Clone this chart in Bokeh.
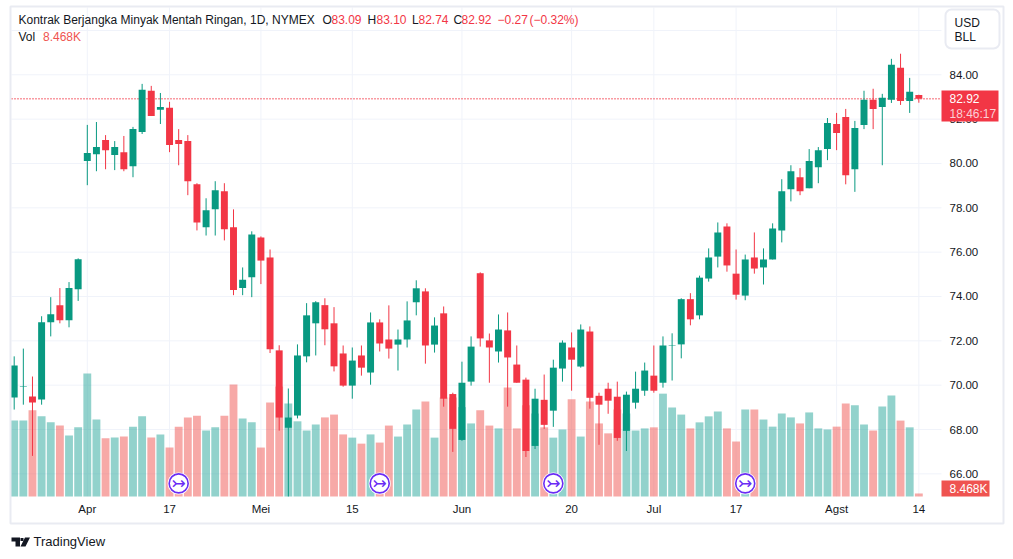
from bokeh.plotting import figure
from bokeh.embed import file_html
from bokeh.resources import INLINE
from bokeh.models import (ColumnDataSource, Range1d, LinearAxis, FixedTicker, Label, BoxAnnotation,
                          PolyAnnotation, NumeralTickFormatter)
from bokeh.core.properties import value

FONT = "Liberation Sans"

opens = [69.44,69.92,69.49,69.35,72.84,73.61,72.93,74.33,80.11,80.42,81.06,80.38,80.51,79.88,81.42,83.28,82.42,82.51,81.06,81.01,
         79.06,77.12,77.93,78.75,77.12,74.38,74.87,76.66,75.76,71.57,68.08,68.63,71.30,72.79,73.61,72.79,71.43,69.98,71.34,70.57,
         72.83,72.06,71.83,72.06,73.74,74.23,71.83,73.24,69.60,67.53,70.16,75.05,72.02,71.52,72.47,70.93,70.25,67.26,69.34,68.85,
         70.75,71.70,70.84,72.42,69.52,69.84,69.48,67.94,69.21,69.75,70.43,70.11,71.77,71.84,73.88,73.15,74.81,75.80,77.16,75.03,
         74.04,75.76,75.31,75.67,76.98,78.84,79.38,78.88,79.83,80.65,81.78,82.10,79.74,81.74,82.87,82.55,82.87,84.32,82.82,83.09]
highs = [71.30,71.65,70.39,73.11,73.97,74.38,74.65,75.72,81.74,81.87,81.28,81.01,81.24,81.65,83.59,83.50,83.18,82.78,81.55,81.28,
         79.11,78.43,79.20,79.11,77.93,75.31,76.94,76.71,76.12,71.80,69.85,71.84,73.70,73.79,73.92,73.52,71.79,71.70,71.79,73.28,
         72.97,73.60,72.51,73.78,74.73,74.37,73.06,73.55,69.66,71.06,72.20,75.09,72.33,73.19,73.28,71.79,70.34,69.84,70.48,71.15,
         72.02,72.38,72.74,72.65,69.66,70.11,70.16,69.71,70.61,71.02,71.79,72.20,72.34,73.92,74.15,74.94,76.17,77.34,77.30,76.12,
         75.89,76.89,76.17,77.30,79.29,79.92,79.79,80.65,80.74,82.05,82.28,82.46,81.92,83.28,83.37,83.14,84.72,84.95,83.86,83.10]
lows = [68.90,69.12,66.81,69.12,72.20,72.79,72.61,73.80,79.02,79.65,79.74,79.70,79.65,79.38,81.33,82.14,81.78,80.51,79.92,78.57,
        76.98,76.75,76.75,76.53,74.06,74.06,73.97,74.56,71.45,67.95,64.98,68.50,71.03,71.34,71.80,70.62,69.93,69.39,70.43,70.02,
        71.52,71.20,70.66,71.70,73.15,70.97,71.47,69.03,66.99,67.49,69.98,71.74,70.11,71.02,69.03,70.11,66.76,67.12,68.03,68.12,
        70.16,69.75,70.79,68.94,67.31,68.71,67.49,67.03,68.94,69.52,69.66,69.89,70.21,71.21,72.70,72.97,74.67,75.31,75.12,73.86,
        73.83,75.03,74.54,75.67,76.44,78.29,78.57,78.88,79.11,80.15,80.60,79.06,78.72,81.55,81.55,79.92,82.73,82.64,82.28,82.74]
closes = [70.89,69.94,69.22,72.84,73.20,72.93,74.38,75.68,80.47,80.74,80.60,80.74,79.74,81.55,83.32,82.14,82.55,80.83,80.88,79.20,
          77.34,77.89,78.79,77.03,74.29,74.76,76.80,75.62,71.62,68.54,68.54,71.34,73.15,73.74,72.52,70.85,69.98,71.11,70.79,72.83,
          71.88,71.65,72.06,72.92,74.37,71.79,72.69,69.39,68.03,70.11,71.74,72.11,71.70,72.51,71.25,70.11,67.03,69.39,68.21,70.79,
          71.92,71.15,72.51,69.43,69.12,69.30,67.62,69.57,69.84,70.66,69.75,71.79,71.79,73.88,72.97,74.85,75.76,76.89,75.40,74.08,
          75.67,75.26,75.67,77.07,78.75,79.65,78.75,80.11,80.60,81.83,81.37,79.47,81.60,82.87,82.46,82.96,84.45,82.82,83.23,82.92]
volumes_k = [214,214,243,226,209,200,172,195,347,217,164,166,169,197,226,166,175,138,197,223,
             228,186,195,228,316,220,209,138,265,310,262,212,186,203,223,231,175,166,149,175,
             152,200,169,203,245,268,166,279,279,252,206,243,200,192,307,192,257,234,195,166,
             189,274,169,268,206,178,245,234,186,192,195,290,251,231,192,209,226,240,192,155,
             245,245,217,197,234,223,206,237,192,189,197,262,257,203,186,254,285,214,195,8.468]

price_ticks = [66, 68, 70, 72, 74, 76, 78, 80, 82, 84]
grid_prices = price_ticks + [86]
time_ticks = [8, 17, 27, 37, 49, 61, 70, 79, 90, 99]
time_labels = ["Apr", "17", "Mei", "15", "Jun", "20", "Jul", "17", "Agst", "14"]
event_bars = [18, 40, 59, 80]
last_price = 82.92

UP, DOWN = "#089981", "#f23645"
VOL_UP, VOL_DOWN = "#26a69a", "#ef5350"
INK = "#131722"
GRID = "#f0f3fa"
BORDER = "#e9ebf2"

# extent of the price pane inside the picture, in axis units
PANE_LEFT, PANE_RIGHT = -0.295, 101.48
PANE_BOTTOM, PANE_TOP = 64.98, 87.04

idx = list(range(len(opens)))
up = [c >= o for o, c in zip(opens, closes)]
src = ColumnDataSource(dict(
    x=idx, o=opens, h=highs, l=lows, c=closes, v=volumes_k,
    color=[UP if u else DOWN for u in up],
    vcolor=[VOL_UP if u else VOL_DOWN for u in up],
    top=[max(o, c) for o, c in zip(opens, closes)],
    bot=[min(o, c) for o, c in zip(opens, closes)],
))

# the frame fills the picture, so that the tags and the legend outside the pane can be drawn
p = figure(width=1013, height=559, output_backend="svg", toolbar_location=None,
           x_range=Range1d(-1.499, 109.36), y_range=Range1d(62.137, 87.351),
           x_axis_location=None, y_axis_location=None,
           frame_width=1013, frame_height=559,
           min_border_left=0, min_border_right=0, min_border_top=0, min_border_bottom=0,
           outline_line_color=None, background_fill_color="white", border_fill_color="white",
           margin=(0, 0, 0, 0))
p.grid.visible = False
p.extra_y_ranges = {"vol": Range1d(-177.7, 1398.7)}

yaxis = LinearAxis(ticker=FixedTicker(ticks=price_ticks), axis_line_color=None, fixed_location=PANE_RIGHT,
                   major_tick_line_color=None, minor_tick_line_color=None,
                   major_tick_out=0, major_tick_in=0, minor_tick_out=0, minor_tick_in=0,
                   major_label_text_font=FONT, major_label_text_font_size="11.5px",
                   major_label_text_color=INK, major_label_standoff=8)
yaxis.formatter = NumeralTickFormatter(format="0.00")
p.add_layout(yaxis, "right")

xaxis = LinearAxis(ticker=FixedTicker(ticks=time_ticks), axis_line_color=None, fixed_location=PANE_BOTTOM,
                   major_tick_line_color=None, minor_tick_line_color=None,
                   major_tick_out=0, major_tick_in=0, minor_tick_out=0, minor_tick_in=0,
                   major_label_text_font=FONT, major_label_text_font_size="11.5px",
                   major_label_text_color=INK, major_label_standoff=7,
                   major_label_overrides={t: s for t, s in zip(time_ticks, time_labels)})
p.add_layout(xaxis, "below")

# grid, limited to the pane
p.segment(x0=[PANE_LEFT] * len(grid_prices), x1=[PANE_RIGHT] * len(grid_prices), y0=grid_prices, y1=grid_prices,
          line_color=GRID, line_width=1)
p.segment(x0=time_ticks, x1=time_ticks, y0=[PANE_BOTTOM] * len(time_ticks), y1=[PANE_TOP] * len(time_ticks),
          line_color=GRID, line_width=1)

p.vbar(x="x", top="v", bottom=0, width=0.86, source=src, y_range_name="vol",
       fill_color="vcolor", fill_alpha=0.5, line_color=None)
p.segment(x0=[PANE_LEFT], x1=[PANE_RIGHT], y0=[last_price], y1=[last_price],
          line_color=DOWN, line_width=1.4, line_dash="1 2")
p.segment(x0="x", x1="x", y0="l", y1="h", source=src, line_color="color", line_width=1)
p.vbar(x="x", top="top", bottom="bot", width=0.76, source=src, fill_color="color", line_color=None)

# event markers, at the foot of the price pane
ev_y = [65.57] * len(event_bars)
p.scatter(event_bars, ev_y, size=22, marker="circle", fill_color="white", line_color=None)
p.scatter(event_bars, ev_y, size=19, marker="circle", fill_color="white", line_color="#6a2cf5", line_width=1.6)
p.text(event_bars, ev_y, text=["\u21a3"] * len(event_bars), text_font=value("DejaVu Sans"),
       text_font_size="17px", text_color="#6a2cf5", text_align="center", text_baseline="middle")


def box(l, t, r, b, fill=None, line=None, line_width=1, radius=0):
    p.add_layout(BoxAnnotation(left=l, right=r, top=t, bottom=b, left_units="canvas", right_units="canvas",
                               top_units="canvas", bottom_units="canvas",
                               fill_color=fill, fill_alpha=1 if fill else 0,
                               line_color=line, line_width=line_width, line_alpha=1 if line else 0,
                               border_radius=radius))


def label(x, y, text, color=INK, size="12px", font=FONT):
    p.add_layout(Label(x=x, y=y, x_units="canvas", y_units="canvas", text=text, text_color=color,
                       text_font=font, text_font_size=size, text_baseline="middle", text_align="left"))


# outer frame
box(10, 6, 1003, 523, line=BORDER, line_width=2)

# price and volume tags
box(941, 90, 998, 121, fill=DOWN)
label(949, 98, "82.92", "white")
label(949, 113, "18:46:17", "#fbd0d5")
box(941, 480, 989, 496, fill="#ef5350")
label(949, 488.5, "8.468K", "white")

# unit button
box(945, 9, 999, 48, fill="white", line=BORDER, line_width=2, radius=6)
label(954, 22, "USD")
label(954, 36, "BLL")

# legend
label(18, 19, "Kontrak Berjangka Minyak Mentah Ringan, 1D, NYMEX")
for x, s, c in [(322, "O", INK), (331, "83.09", DOWN), (367, "H", INK), (376, "83.10", DOWN),
                (411.5, "L", INK), (418, "82.74", DOWN), (453, "C", INK), (461, "82.92", DOWN),
                (497, "\u22120.27", DOWN), (529, "(\u22120.32%)", DOWN)]:
    label(x, 19, s, c)
label(18, 36, "Vol")
label(42.5, 36, "8.468K", "#ef5350")

# brand
for xs, ys in [([11, 19.5, 19.5, 15, 15, 11], [537, 537, 546, 546, 541, 541]),
               ([24.5, 29.5, 25, 20], [537, 537, 546, 546]),
               ([20, 23, 23, 20], [537.5, 537.5, 540.5, 540.5])]:
    p.add_layout(PolyAnnotation(xs=xs, ys=ys, xs_units="canvas", ys_units="canvas",
                                fill_color=INK, fill_alpha=1, line_color=None))
label(33, 541, "TradingView", INK, "13px")

open("out.html", "w").write(file_html(p, INLINE))
